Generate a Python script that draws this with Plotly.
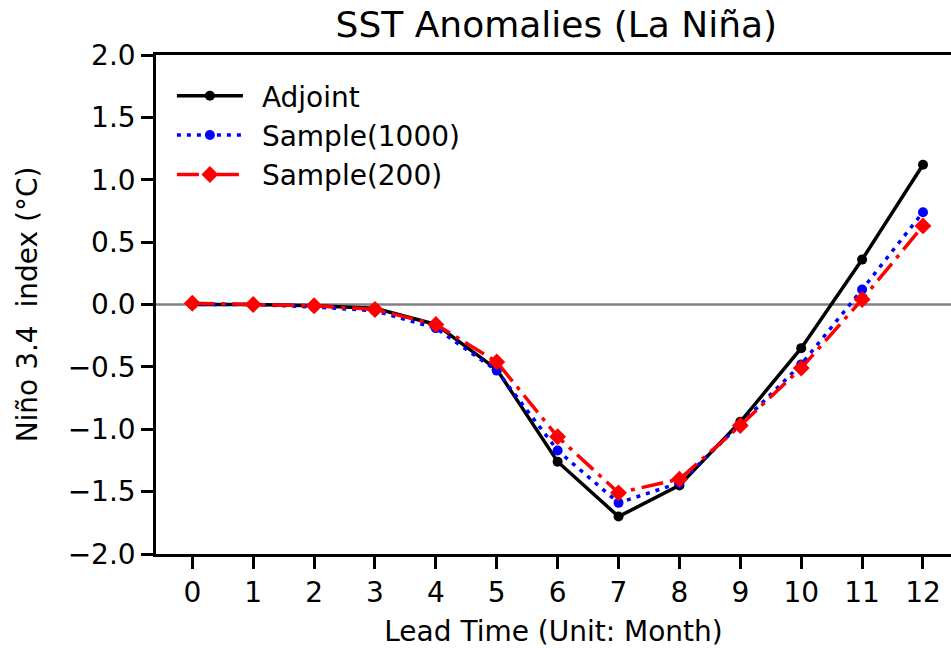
import plotly.graph_objects as go

lead_time = list(range(13))
adjoint = [0.0, 0.0, -0.01, -0.03, -0.16, -0.52, -1.26, -1.70, -1.45, -0.94, -0.35, 0.36, 1.12]
sample_1000 = [0.0, 0.0, -0.02, -0.05, -0.19, -0.53, -1.17, -1.59, -1.43, -0.96, -0.48, 0.12, 0.74]
sample_200 = [0.01, 0.0, -0.01, -0.04, -0.16, -0.46, -1.06, -1.51, -1.40, -0.97, -0.51, 0.04, 0.63]
series_names = ["Adjoint", "Sample(1000)", "Sample(200)"]
x_ticks = list(range(13))
y_ticks = [-2.0, -1.5, -1.0, -0.5, 0.0, 0.5, 1.0, 1.5, 2.0]

FONT = "DejaVu Sans"

fig = go.Figure()
fig.add_trace(go.Scatter(
    x=lead_time, y=adjoint, name="\u2002" + series_names[0], mode="lines+markers",
    line=dict(color="black", width=3.5, dash="solid"),
    marker=dict(symbol="circle", size=10, color="black"),
))
fig.add_trace(go.Scatter(
    x=lead_time, y=sample_1000, name="\u2002" + series_names[1], mode="lines+markers",
    line=dict(color="blue", width=3.5, dash="4px,6px"),
    marker=dict(symbol="circle", size=10, color="blue"),
))
fig.add_trace(go.Scatter(
    x=lead_time, y=sample_200, name="\u2002" + series_names[2], mode="lines+markers",
    line=dict(color="red", width=3.5, dash="22px,7px,4px,7px"),
    marker=dict(symbol="diamond", size=13, color="red"),
))

fig.add_hline(y=0, line=dict(color="gray", width=2.5), layer="below")

fig.update_layout(
    width=951, height=648,
    margin=dict(l=156, r=0, t=55, b=94),
    paper_bgcolor="white", plot_bgcolor="white",
    font=dict(family=FONT, size=28, color="black"),
    title=dict(text="SST Anomalies (La Niña)", x=0.585, xanchor="center",
               y=0.963, yanchor="middle", font=dict(size=36)),
    showlegend=True,
    legend=dict(x=0.02, y=0.968, xanchor="left", yanchor="top",
                bgcolor="rgba(0,0,0,0)", borderwidth=0,
                font=dict(size=28), itemwidth=66),
    xaxis=dict(
        range=[-0.596, 12.46], tickmode="array", tickvals=x_ticks,
        ticktext=[str(v) for v in x_ticks],
        showgrid=False, zeroline=False, showline=True, linecolor="black",
        linewidth=2.5, mirror=True, ticks="outside", ticklen=12, tickwidth=2.5,
        tickcolor="black", tickfont=dict(size=28),
        title=dict(text="Lead Time (Unit: Month)", standoff=15, font=dict(size=28)),
    ),
    yaxis=dict(
        range=[-2.0, 2.0], tickmode="array", tickvals=y_ticks,
        ticktext=[("\u2212" if v < 0 else "") + f"{abs(v):.1f}" for v in y_ticks],
        showgrid=False, zeroline=False, showline=True, linecolor="black",
        linewidth=2.5, ticks="outside", ticklen=12, tickwidth=2.5, tickcolor="black",
        tickfont=dict(size=28),
        title=dict(text="Niño 3.4\u00a0 index (°C)", standoff=22, font=dict(size=28)),
    ),
)

fig.write_html(
    "out.html",
    config={"displayModeBar": False},
    post_script="document.body.style.margin='0';document.body.style.overflow='hidden';",
)
